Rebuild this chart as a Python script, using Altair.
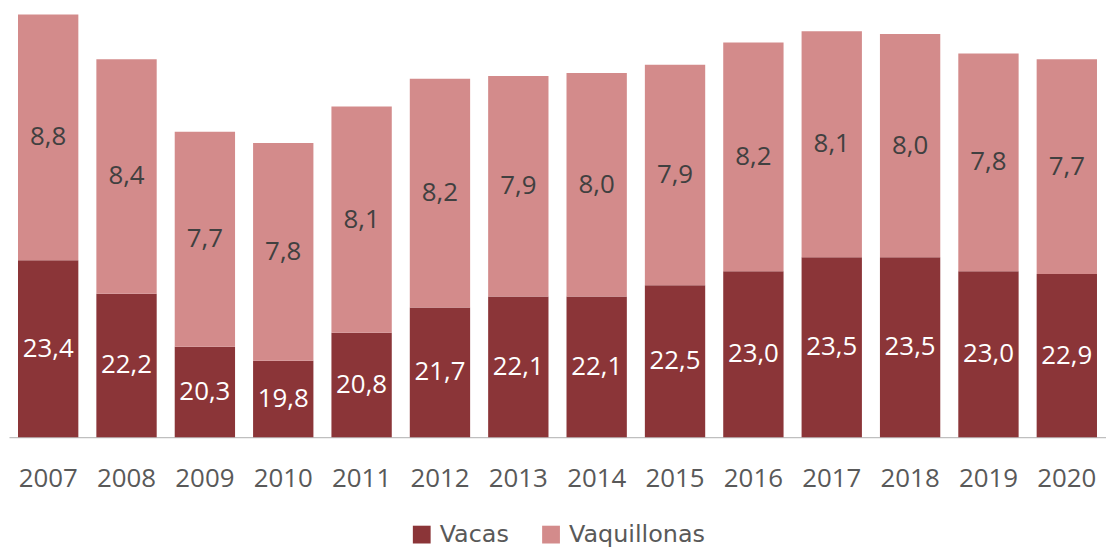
import altair as alt
import pandas as pd

years = ["2007", "2008", "2009", "2010", "2011", "2012", "2013", "2014", "2015", "2016", "2017", "2018", "2019", "2020"]
vacas = [23.4, 22.2, 20.3, 19.8, 20.8, 21.7, 22.1, 22.1, 22.5, 23.0, 23.5, 23.5, 23.0, 22.9]
vaquillonas = [8.8, 8.4, 7.7, 7.8, 8.1, 8.2, 7.9, 8.0, 7.9, 8.2, 8.1, 8.0, 7.8, 7.7]
series = ["Vacas", "Vaquillonas"]
colors = ["#8B3538", "#D38B8B"]

y_min, y_max = 17.06, 32.38

rows = []
for i, yr in enumerate(years):
    v, q = vacas[i], vaquillonas[i]
    rows.append(dict(year=yr, serie="Vacas", lo=0.0, hi=v, mid=(y_min + v) / 2,
                     label=f"{v:.1f}".replace(".", ","), order=0))
    rows.append(dict(year=yr, serie="Vaquillonas", lo=v, hi=v + q, mid=v + q / 2,
                     label=f"{q:.1f}".replace(".", ","), order=1))
df = pd.DataFrame(rows)

FONT = "Open Sans"

x = alt.X("year:N", title=None, sort=years,
          scale=alt.Scale(paddingInner=0.23, paddingOuter=0.115),
          axis=alt.Axis(labelAngle=0, ticks=False, labelFontSize=26, labelFont=FONT,
                        labelColor="#595959", labelPadding=29, domainColor="#BFBFBF",
                        domainWidth=1.5))
yscale = alt.Scale(domain=[y_min, y_max], nice=False, zero=False)

bars = alt.Chart(df).mark_bar(clip=True).encode(
    x=x,
    y=alt.Y("hi:Q", scale=yscale, axis=None),
    y2="lo:Q",
    color=alt.Color("serie:N", scale=alt.Scale(domain=series, range=colors),
                    legend=alt.Legend(title=None, orient="none", direction="horizontal",
                                      legendX=403, legendY=516, labelFontSize=24,
                                      labelFont="DejaVu Sans", labelColor="#595959",
                                      symbolType="square", symbolSize=320,
                                      symbolStrokeWidth=0, columnPadding=30,
                                      labelOffset=6)),
)

labels = alt.Chart(df).mark_text(fontSize=26, font=FONT, baseline="middle").encode(
    x=alt.X("year:N", sort=years),
    y=alt.Y("mid:Q", scale=yscale),
    text="label:N",
    color=alt.Color("serie:N", scale=alt.Scale(domain=series, range=["#FFFFFF", "#404040"]),
                    legend=None),
)

chart = alt.layer(bars, labels).resolve_scale(color="independent").properties(
    width=1103, height=430,
    autosize=alt.AutoSizeParams(type="none"),
    padding={"left": 1, "top": 0, "right": 0, "bottom": 110},
).configure(background="white").configure_view(stroke=None)

chart.save("out.html", embed_options={"renderer": "svg", "actions": False})
